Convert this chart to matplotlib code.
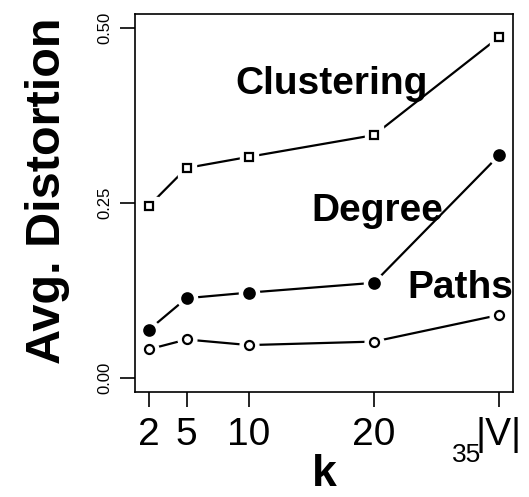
import matplotlib
matplotlib.use("Agg")
import matplotlib.pyplot as plt

plt.rcParams['font.family'] = ['Liberation Sans', 'DejaVu Sans']

# k values (last one stands for |V|)
k_vals = [2, 5, 10, 20, 30]
k_labels = ['2', '5', '10', '20', '|V|']

clustering = [0.246, 0.300, 0.316, 0.347, 0.487]
degree = [0.069, 0.114, 0.122, 0.136, 0.318]
paths = [0.041, 0.055, 0.047, 0.052, 0.090]

y_ticks = [0.0, 0.25, 0.5]
y_labels = ['0.00', '0.25', '0.50']


def plot_b(ax, x, y, marker, filled, ms):
    # R type="b": line with a gap around each point
    ax.plot(x, y, color='black', lw=1.6, zorder=1)
    ax.plot(x, y, ls='none', marker=marker, ms=ms + 7, mfc='white',
            mec='white', zorder=2)
    ax.plot(x, y, ls='none', marker=marker, ms=ms,
            mfc='black' if filled else 'white', mec='black', mew=1.6, zorder=3)


fig = plt.figure(figsize=(5.29, 4.97), dpi=100)
ax = fig.add_axes([0.2552, 0.2113, 0.7146, 0.7605])

plot_b(ax, k_vals, clustering, 's', False, 5.5)
plot_b(ax, k_vals, degree, 'o', True, 7.5)
plot_b(ax, k_vals, paths, 'o', False, 6.5)

ax.set_xlim(2 - 28 * 0.04, 30 + 28 * 0.04)
ax.set_ylim(0 - 0.5 * 0.04, 0.5 + 0.5 * 0.04)

ax.set_xticks(k_vals)
ax.set_xticklabels(k_labels, fontsize=28)
ax.set_yticks(y_ticks)
ax.set_yticklabels(y_labels, fontsize=12, rotation=90, va='center')
ax.tick_params(axis='x', length=11, width=1.2, pad=7)
ax.tick_params(axis='y', length=11, width=1.2, pad=5)
for s in ax.spines.values():
    s.set_linewidth(1.2)

ax.text(16.6, 0.42, 'Clustering', fontsize=28, fontweight='bold', ha='center', va='center')
ax.text(20.3, 0.239, 'Degree', fontsize=28, fontweight='bold', ha='center', va='center')
ax.text(26.9, 0.129, 'Paths', fontsize=28, fontweight='bold', ha='center', va='center')

ax.text(27.4, -0.11, '35', fontsize=19, ha='center', va='center', clip_on=False)

fig.text(324 / 529, 1 - 475 / 497, 'k', fontsize=32, fontweight='bold',
         ha='center', va='center')
fig.text(48 / 529, 1 - 191 / 497, 'Avg. Distortion', fontsize=35,
         fontweight='bold', rotation=90, ha='center', va='center')

fig.savefig('out.png', dpi=100)
